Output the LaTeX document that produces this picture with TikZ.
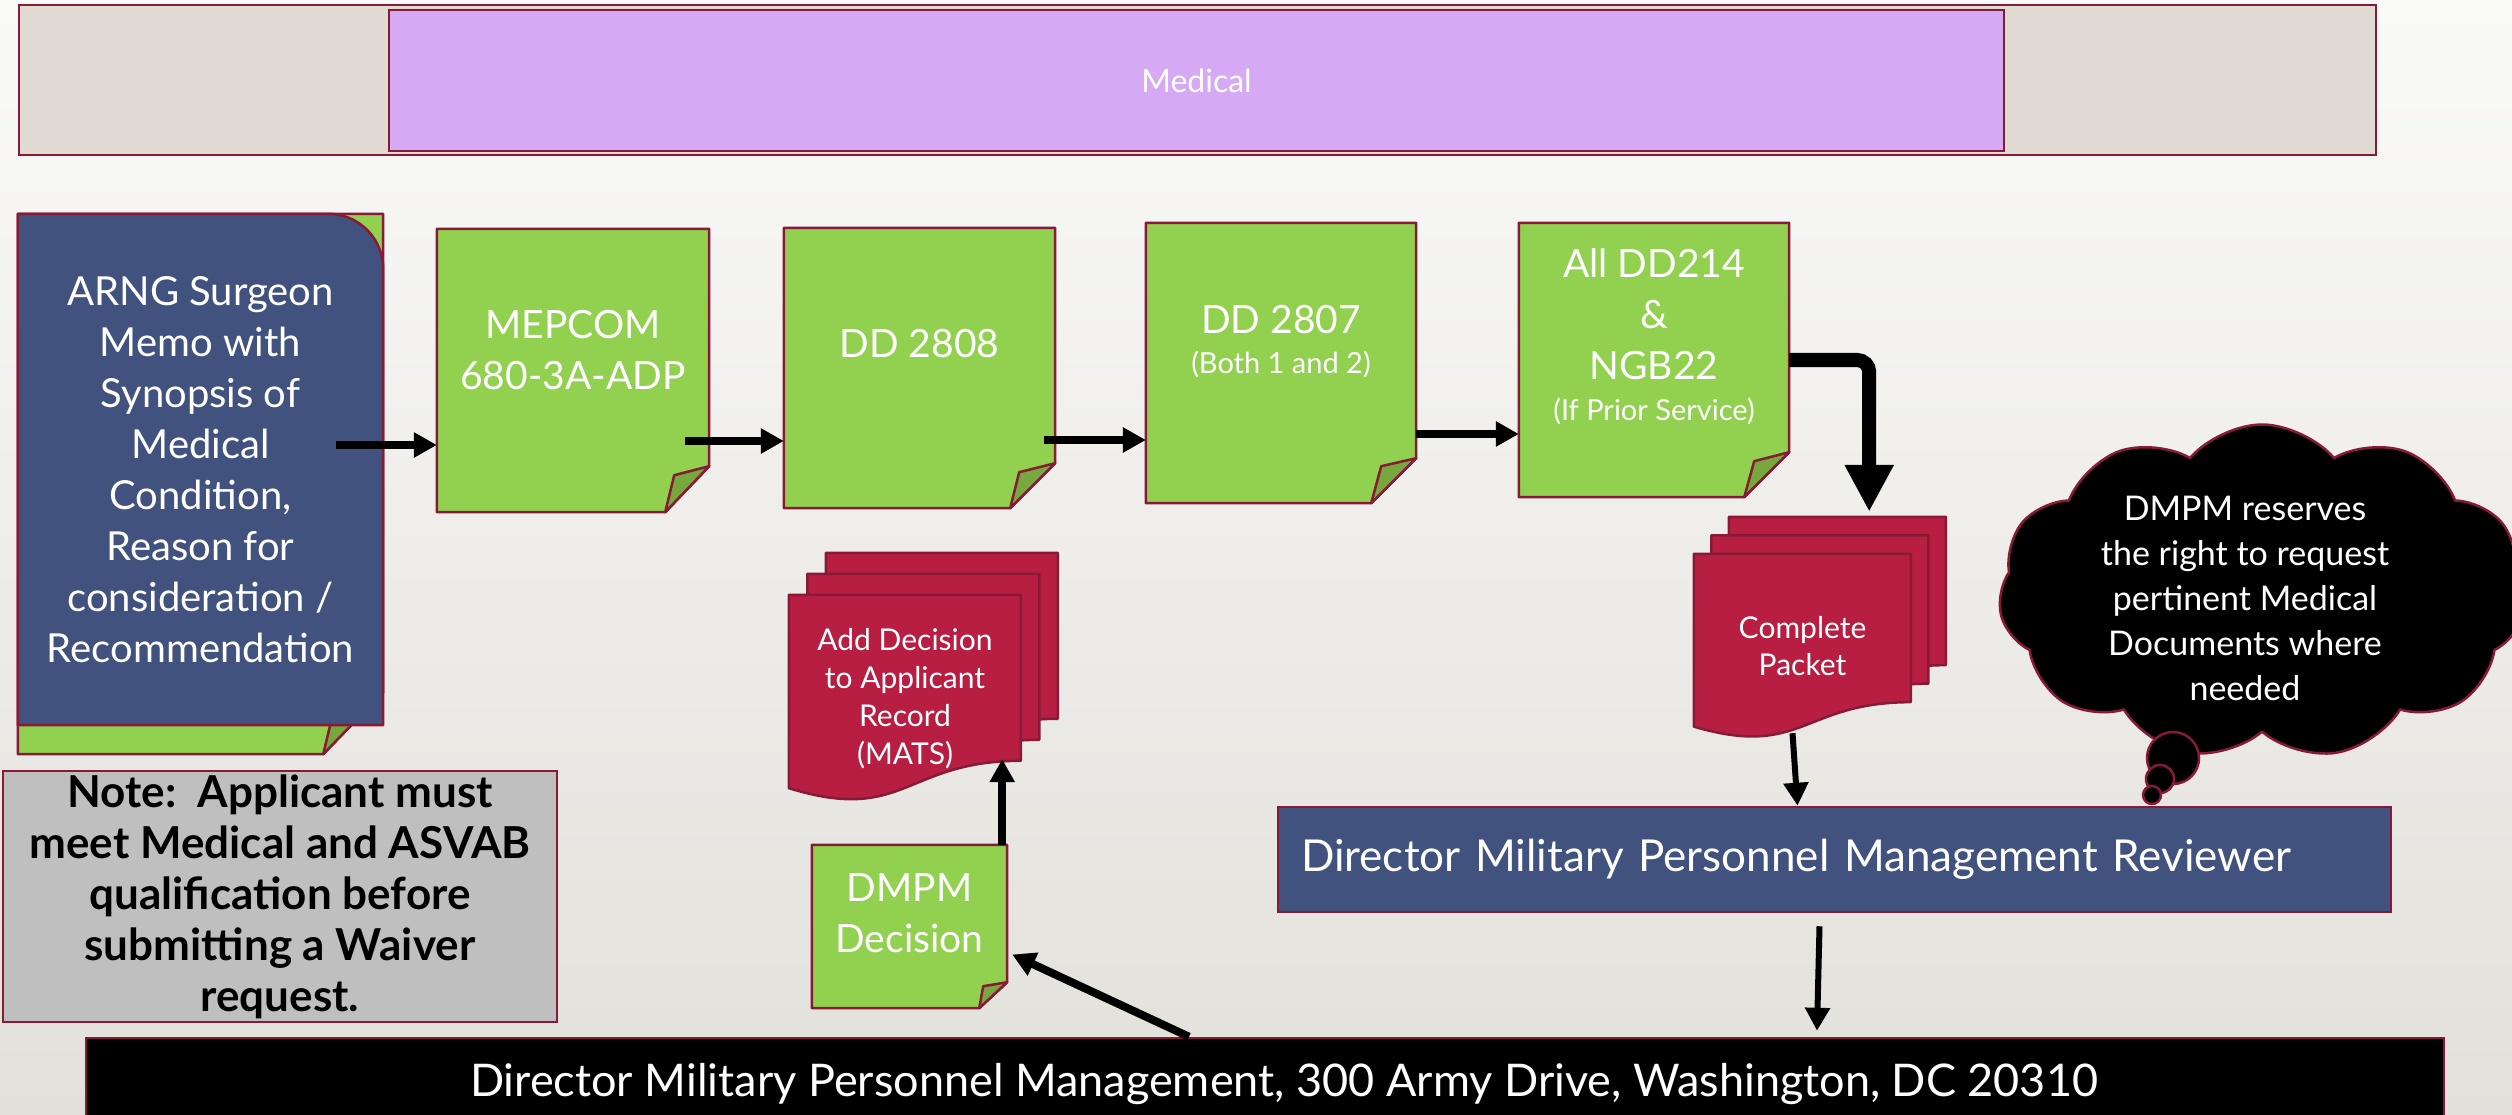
\documentclass[tikz,border=0pt]{standalone}
\usepackage{fontspec}
\setmainfont{Lato}
\usetikzlibrary{
        arrows.meta,
        calc,
        positioning,
        shapes.symbols
    }
\definecolor{docred}{HTML}{861A37}
\definecolor{docgreen}{HTML}{92D050}
\definecolor{foldgreen}{HTML}{76A83D}
\definecolor{slate}{HTML}{42527E}
\definecolor{packetred}{HTML}{B81E41}
\definecolor{lavender}{HTML}{D5A9F4}
\definecolor{bannergray}{HTML}{DFDBD3}
\definecolor{notegray}{HTML}{BFBFBF}
\definecolor{papertop}{HTML}{FAFAF9}
\definecolor{paperbottom}{HTML}{E2E0DA}
\pgfdeclarelayer{paper}
\pgfdeclarelayer{docs}
\pgfsetlayers{paper,docs,main}
\newcommand\fs[2]{\fontsize{#1pt}{#2pt}\selectfont}
% green sheet with a folded corner, drawn behind node #1
\newcommand\greendoc[5]{%
  \begin{pgfonlayer}{docs}
    \filldraw[docline, fill=docgreen] (#1.north west) -- (#1.north east) -- ($(#1.south east)+(0,-#3)$)
      -- ($(#1.south east)+(-#2,0)$) -- (#1.south west) -- cycle;
    \filldraw[docline, fill=foldgreen] ($(#1.south east)+(-#2,0)$) -- ($(#1.south east)+(-#4,-#5)$)
      -- ($(#1.south east)+(0,-#3)$) -- cycle;
  \end{pgfonlayer}}
% three wavy sheets behind node #1
\newcommand\stackdoc[5]{%
  \begin{pgfonlayer}{docs}
    \foreach \k in {2,1,0}
      \filldraw[docline, fill=packetred] ($(#1.north west)+(\k*#4,\k*#5)$) -- ++(#2,0) -- ++(0,{0.802*#3})
        .. controls +({-0.5*#2},0) and +({0.5*#2},{0.1735*#3}) .. ++(-#2,{0.132*#3}) -- cycle;
  \end{pgfonlayer}}
\tikzset{>={Triangle[length=23pt,width=24pt]}}
\tikzset{
  docline/.style={draw=docred, line width=2.5pt, line join=round},
  docbox/.style={inner sep=0pt},
  doctext/.style={text=white, align=center, inner sep=0pt, font=\fs{39}{51}},
  plainbox/.style={draw=docred, line width=2.5pt, inner sep=0pt},
  flow/.style={->, line width=8pt},
  thinflow/.style={->, line width=6pt},
  bigflow/.style={->, line width=14pt, >={Triangle[length=47pt,width=46pt]}, rounded corners=12pt},
  bubble/.style={docline, fill=black}
}
\begin{document}
\begin{tikzpicture}[x=1pt,y=-1pt]
  \useasboundingbox (0,0) rectangle (2512,1115);
  \begin{pgfonlayer}{paper}
    \shade[top color=papertop, bottom color=paperbottom] (0,0) rectangle (2512,1115);
  \end{pgfonlayer}

  % banner
  \node[plainbox, fill=bannergray, minimum width=2357pt, minimum height=150pt] (banner) at (1197.5,80) {};
  \node[plainbox, fill=lavender, text=white, font=\fs{32}{38}, minimum width=1615pt, minimum height=141pt] (medical) at (1196.5,80.5) {Medical};

  % memo
  \node[doctext, font=\fs{40}{51}, minimum width=365pt, minimum height=511pt] (arng) at (200.5,469.5)
      {ARNG Surgeon\\Memo with\\Synopsis of\\Medical\\Condition,\\Reason for\\consideration /\\Recommendation};
  \begin{pgfonlayer}{docs}
    \coordinate (arngfoot) at ($(arng.south east)+(0,29)$);
    \filldraw[docline, fill=docgreen] (arng.north west) -- (arng.north east) -- ($(arngfoot)+(0,-62)$)
      -- ($(arngfoot)+(-60,0)$) -- (arng.south west |- arngfoot) -- cycle;
    \filldraw[docline, fill=foldgreen] ($(arngfoot)+(-60,0)$) -- ($(arngfoot)+(-48,-50)$) -- ($(arngfoot)+(0,-62)$) -- cycle;
    \filldraw[docline, fill=slate] (arng.south west) -- (arng.north west) -- ($(arng.north east)+(-55,0)$)
      arc[start angle=90, end angle=0, radius=55pt] -- (arng.south east) -- cycle;
  \end{pgfonlayer}

  % forms
  \node[docbox, minimum width=272pt, minimum height=283pt] (mepcom) at (573,370.5) {};
  \greendoc{mepcom}{44}{46}{35}{37}
  \node[doctext, below=81pt of mepcom.north] {MEPCOM\\680-3A-ADP};

  \node[docbox, minimum width=271pt, minimum height=280pt] (dd2808) at (919.5,368) {};
  \greendoc{dd2808}{45}{45}{36}{36}
  \node[doctext, below=101pt of dd2808.north] {DD 2808};

  \node[docbox, minimum width=270pt, minimum height=280pt] (dd2807) at (1281,363) {};
  \greendoc{dd2807}{45}{45}{35}{37}
  \node[doctext, below=82pt of dd2807.north] {DD 2807\\[-11pt]{\fs{29}{40}(Both 1 and 2)}};

  \node[docbox, minimum width=270pt, minimum height=274pt] (dd214) at (1654,360) {};
  \greendoc{dd214}{45}{45}{35}{36}
  \node[doctext, below=26pt of dd214.north] {All DD214\\\&\\NGB22\\[-10pt]{\fs{29}{40}(If Prior Service)}};

  \node[docbox, minimum width=195pt, minimum height=163pt] (dmpm) at (909.5,926.5) {};
  \greendoc{dmpm}{28}{26}{24}{22}
  \node[doctext, below=29pt of dmpm.north] {DMPM\\Decision};

  % sheet stacks
  \node[doctext, font=\fs{30}{38}, minimum width=232pt, minimum height=207pt] (adddec) at (905,698.5)
      {Add Decision\\to Applicant\\Record\\(MATS)};
  \stackdoc{adddec}{232}{207}{18.5}{-21}
  \node[doctext, font=\fs{30}{37}, minimum width=217pt, minimum height=185pt] (packet) at (1802.5,646.5)
      {Complete\\Packet};
  \stackdoc{packet}{217}{185}{17.5}{-18.5}

  % thought cloud
  \node[cloud, docline, fill=black, cloud puffs=11, cloud puff arc=100, cloud ignores aspect,
        minimum width=527pt, minimum height=335pt] (remark) at (2262,592) {};
  \filldraw[bubble] ($(remark.center)+(-89,166)$) circle[radius=26pt];
  \filldraw[bubble] ($(remark.center)+(-102,187)$) circle[radius=14pt];
  \filldraw[bubble] ($(remark.center)+(-110,203)$) circle[radius=9pt];
  \node[doctext, font=\fs{34}{45}] at ([xshift=-17pt,yshift=-6pt]remark.center)
      {DMPM reserves\\the right to request\\pertinent Medical\\Documents where\\needed};

  % note
  \node[plainbox, fill=notegray, font=\fs{44}{51}\bfseries, align=center, minimum width=554pt, minimum height=251pt] (note) at (280,896.5)
      {Note:\ \ Applicant must\\meet Medical and ASVAB\\qualification before\\submitting a Waiver\\request.};

  % reviewer and address
  \node[plainbox, fill=slate, text=white, font=\fs{44}{52}, inner xsep=23pt, text width=1067pt, align=left,
        minimum height=105pt] (reviewer) at (1834.5,859.5) {Director Military Personnel Management Reviewer};
  \node[plainbox, fill=black, text=white, font=\fs{45}{52}, minimum width=2358pt, minimum height=92pt] (address) at (1265,1084)
      {\hspace*{38pt}Director Military Personnel Management, 300 Army Drive, Washington, DC 20310};

  % flow
  \draw[flow] ([xshift=-47pt,yshift=24.5pt]arng.east) -- ([yshift=-74.5pt]mepcom.west);
  \draw[flow] ([xshift=-24pt,yshift=-70.5pt]mepcom.east) -- ([yshift=-73pt]dd2808.west);
  \draw[flow] ([xshift=-11pt,yshift=-72pt]dd2808.east) -- ([yshift=-77pt]dd2807.west);
  \draw[flow] ([yshift=-71pt]dd2807.east) -- ([yshift=-74pt]dd214.west);
  \draw[bigflow] (dd214.east) -| ([xshift=-42pt,yshift=42pt]packet.north east);
  \draw[thinflow] ([xshift=-10pt,yshift=6pt]packet.south) -- ([xshift=-37pt]reviewer.north);
  \draw[thinflow] ([xshift=-15pt,yshift=-13pt]reviewer.south) -- ([xshift=552pt,yshift=6pt]address.north);
  \draw[flow] ([xshift=-76pt]address.north) -- ([xshift=5pt,yshift=-28pt]dmpm.east);
  \draw[flow] ([xshift=-5pt]dmpm.north east) -- ([xshift=-19pt,yshift=43pt]adddec.south east);
\end{tikzpicture}
\end{document}
